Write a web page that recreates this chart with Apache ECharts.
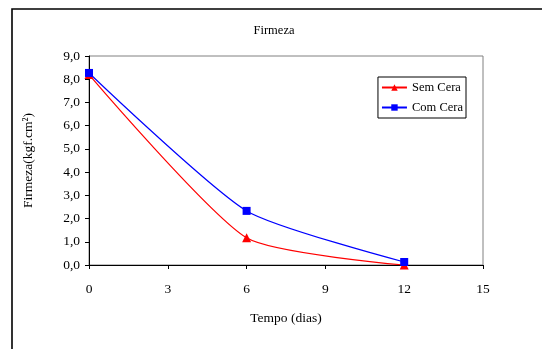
<!DOCTYPE html>
<html>
<head>
<meta charset="utf-8">
<script src="https://cdn.jsdelivr.net/npm/echarts@6/dist/echarts.min.js"></script>
<style>
  html, body { margin: 0; padding: 0; background: #fff; }
  #chart { width: 542px; height: 349px; }
</style>
</head>
<body>
<div id="chart"></div>
<script>
// dias de armazenamento
const dias = [0, 6, 12];
const semCera = [8.2, 1.17, 0.0];
const comCera = [8.27, 2.33, 0.13];
const xTicks = [0, 3, 6, 9, 12, 15];

const serif = '"Liberation Serif", "DejaVu Serif", serif';

const chart = echarts.init(document.getElementById('chart'));

const option = {
  animation: false,
  backgroundColor: '#fff',
  textStyle: { fontFamily: serif },
  title: {
    text: 'Firmeza',
    left: 269,
    top: 19,
    textAlign: 'center',
    textStyle: { fontFamily: serif, fontSize: 12.5, fontWeight: 'normal', color: '#000' }
  },
  graphic: [
    {
      type: 'rect',
      shape: { x: 12, y: 9, width: 560, height: 380 },
      style: { fill: 'none', stroke: '#000', lineWidth: 1.6 },
      silent: true
    }
  ],
  legend: {
    right: 76,
    top: 77,
    orient: 'vertical',
    itemGap: 7,
    itemWidth: 25,
    itemHeight: 8,
    padding: [4, 3, 4, 3],
    borderColor: '#000',
    borderWidth: 1,
    textStyle: { fontFamily: serif, fontSize: 12.5, color: '#000' },
    data: ['Sem Cera', 'Com Cera']
  },
  grid: {
    left: 89,
    right: 59,
    top: 56,
    bottom: 84,
    show: true,
    borderColor: '#808080',
    borderWidth: 1
  },
  xAxis: {
    type: 'value',
    min: 0,
    max: 15,
    interval: 3,
    name: 'Tempo (dias)',
    nameLocation: 'middle',
    nameGap: 46,
    nameTextStyle: { fontFamily: serif, fontSize: 13.5, color: '#000' },
    axisLine: { lineStyle: { color: '#000', width: 1 } },
    axisTick: { show: true, length: 4, inside: false, lineStyle: { color: '#000' } },
    axisLabel: {
      fontFamily: serif, fontSize: 13.5, color: '#000', margin: 17,
      formatter: v => xTicks.includes(v) ? String(v) : ''
    },
    splitLine: { show: false }
  },
  yAxis: {
    type: 'value',
    min: 0,
    max: 9,
    interval: 1,
    name: 'Firmeza(kgf.cm²)',
    nameLocation: 'middle',
    nameGap: 54,
    nameTextStyle: { fontFamily: serif, fontSize: 13.5, color: '#000' },
    axisLine: { show: true, lineStyle: { color: '#000', width: 1 } },
    axisTick: { show: true, length: 4, inside: false, lineStyle: { color: '#000' } },
    axisLabel: {
      fontFamily: serif, fontSize: 13.5, color: '#000', margin: 9,
      formatter: v => v.toFixed(1).replace('.', ',')
    },
    splitLine: { show: false }
  },
  series: [
    {
      name: 'Sem Cera',
      type: 'line',
      data: dias.map((d, i) => [d, semCera[i]]),
      smooth: 0.2,
      symbol: 'triangle',
      symbolSize: 9,
      color: '#ff0000',
      lineStyle: { color: '#ff0000', width: 1.2 },
      itemStyle: { color: '#ff0000' },
      z: 2
    },
    {
      name: 'Com Cera',
      type: 'line',
      data: dias.map((d, i) => [d, comCera[i]]),
      smooth: 0.2,
      symbol: 'rect',
      symbolSize: 8,
      color: '#0000ff',
      lineStyle: { color: '#0000ff', width: 1.2 },
      itemStyle: { color: '#0000ff' },
      z: 3
    }
  ]
};

chart.setOption(option);
</script>
</body>
</html>
